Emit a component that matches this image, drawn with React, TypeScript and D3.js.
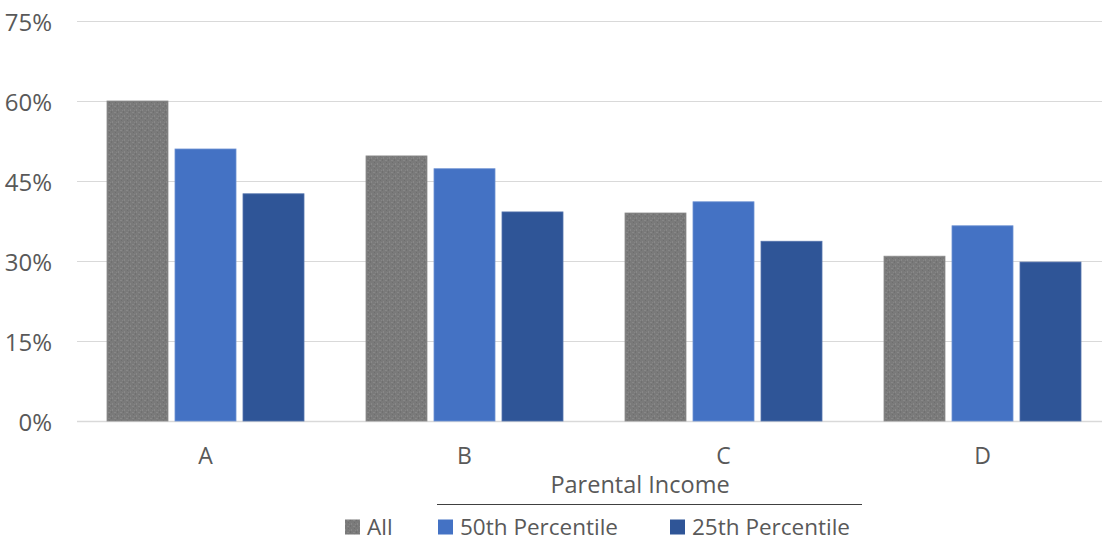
import * as d3 from "d3";

const categories = ["A", "B", "C", "D"];
const seriesNames = ["All", "50th Percentile", "25th Percentile"];
const allValues = [0.6, 0.497, 0.39, 0.309];
const p50Values = [0.51, 0.473, 0.411, 0.366];
const p25Values = [0.426, 0.392, 0.337, 0.298];
const yTicks = [0, 0.15, 0.3, 0.45, 0.6, 0.75];

const colors = ["url(#grayTex)", "#4472C4", "#2F5597"];
const strokes = ["#8c8c8c", "#6d91d3", "#5473ad"];
const legendColors = ["#808080", "#4472C4", "#2F5597"];

const width = 1102;
const height = 542;
const font = "'Open Sans', 'Noto Sans', sans-serif";
const textColor = "#595959";

export default function App() {
  const x0 = d3.scaleBand(categories, [76, 1112]).padding(0);
  const x1 = d3.scaleBand(seriesNames, [31, 228]).paddingInner(0.103);
  const y = d3.scaleLinear([0, 0.75], [421, 21]);
  const fmt = d3.format(".0%");

  const rows = categories.map((c, i) => ({
    cat: c,
    vals: [allValues[i], p50Values[i], p25Values[i]],
  }));

  const legendX = [345, 438, 670];

  return (
    <svg
      width={width}
      height={height}
      style={{ position: "absolute", left: 0, top: 0, background: "#fff" }}
      fontFamily={font}
    >
      <defs>
        <pattern id="grayTex" width="6" height="6" patternUnits="userSpaceOnUse">
          <rect width="6" height="6" fill="#7a7a7a" />
          <rect x="0" y="1" width="1" height="2" fill="#888" />
          <rect x="3" y="0" width="1" height="1" fill="#6e6e6e" />
          <rect x="2" y="4" width="2" height="1" fill="#878787" />
          <rect x="5" y="3" width="1" height="2" fill="#707070" />
          <rect x="4" y="2" width="1" height="1" fill="#858585" />
        </pattern>
      </defs>

      {yTicks.map((t) => (
        <g key={t}>
          <line
            x1={77}
            x2={width}
            y1={Math.round(y(t)) + 0.5}
            y2={Math.round(y(t)) + 0.5}
            stroke="#d9d9d9"
            strokeWidth={t === 0 ? 1.5 : 1}
          />
          <text
            x={52}
            y={y(t)}
            textAnchor="end"
            dominantBaseline="central"
            fontSize={24}
            fill={textColor}
          >
            {fmt(t)}
          </text>
        </g>
      ))}

      {rows.map((r) => (
        <g key={r.cat} transform={`translate(${x0(r.cat)},0)`}>
          {r.vals.map((v, j) => (
            <rect
              key={j}
              x={x1(seriesNames[j])}
              y={y(v)}
              width={x1.bandwidth()}
              height={y(0) - y(v)}
              fill={colors[j]}
              stroke={strokes[j]}
              strokeWidth={0.8}
            />
          ))}
          <text
            x={x0.bandwidth() / 2}
            y={455}
            textAnchor="middle"
            dominantBaseline="central"
            fontSize={23}
            fill={textColor}
          >
            {r.cat}
          </text>
        </g>
      ))}

      <text
        x={640}
        y={484}
        textAnchor="middle"
        dominantBaseline="central"
        fontSize={23.5}
        fill={textColor}
      >
        Parental Income
      </text>
      <line x1={437} x2={862} y1={504.5} y2={504.5} stroke="#404040" strokeWidth={1} />

      {seriesNames.map((s, i) => (
        <g key={s} transform={`translate(${legendX[i]},0)`}>
          <rect x={0} y={519.5} width={15} height={15} fill={i === 0 ? "url(#grayTex)" : legendColors[i]} />
          <text
            x={22}
            y={526.5}
            dominantBaseline="central"
            fontSize={22.5}
            fill={textColor}
          >
            {s}
          </text>
        </g>
      ))}
    </svg>
  );
}
